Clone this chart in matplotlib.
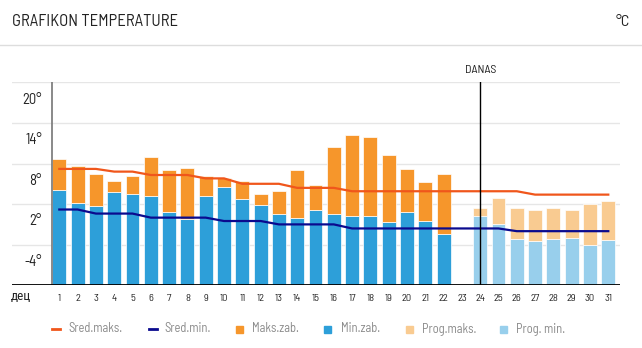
import matplotlib
matplotlib.use("Agg")
import matplotlib.pyplot as plt
from matplotlib.lines import Line2D
from matplotlib.patches import Rectangle

plt.rcParams['font.family'] = ['Barlow Semi Condensed', 'Roboto Condensed', 'DejaVu Sans']

# podaci (decembar)
days_hist = list(range(1, 23))
max_hist = [8.6, 7.7, 6.4, 5.4, 6.2, 8.9, 7.1, 7.4, 6.1, 5.8, 5.4, 3.5, 3.9, 7.1,
            4.8, 10.4, 12.2, 11.9, 9.2, 7.2, 5.3, 6.5]
min_hist = [4.1, 2.2, 1.7, 3.8, 3.5, 3.2, 0.9, -0.2, 3.2, 4.6, 2.8, 1.9, 0.5, -0.1,
            1.2, 0.5, 0.3, 0.3, -0.7, 0.8, -0.5, -2.4]

days_prog = list(range(24, 32))
max_prog = [1.4, 2.9, 1.4, 1.1, 1.4, 1.2, 2.0, 2.5]
min_prog = [0.2, -1.0, -3.1, -3.4, -3.1, -3.0, -4.0, -3.3]

days_all = list(range(1, 32))
avg_max = [7.2, 7.2, 7.2, 6.8, 6.8, 6.3, 6.3, 6.3, 5.8, 5.8, 5.0, 5.0, 5.0, 4.4, 4.4, 4.4,
           3.9, 3.9, 3.9, 3.9, 3.9, 3.9, 3.9, 3.9, 3.9, 3.9, 3.4, 3.4, 3.4, 3.4, 3.4]
avg_min = [1.2, 1.2, 0.6, 0.6, 0.6, 0.0, 0.0, 0.0, 0.0, -0.5, -0.5, -0.5, -1.0, -1.0, -1.0, -1.0,
           -1.6, -1.6, -1.6, -1.6, -1.6, -1.6, -1.6, -1.6, -1.6, -2.0, -2.0, -2.0, -2.0, -2.0, -2.0]

y_ticks = [-4, 2, 8, 14, 20]
today = 24

c_max = '#F6962B'
c_min = '#2D9FD9'
c_pmax = '#F9CB91'
c_pmin = '#98CFEC'
c_avgmax = '#F0561B'
c_avgmin = '#0A0A8E'

W, H = 642, 348
fig = plt.figure(figsize=(W / 100, H / 100), dpi=100)

# zaglavlje
fig.text(12 / W, 1 - 22 / H, 'GRAFIKON TEMPERATURE', fontsize=12, color='#222222', va='center')
fig.text(630 / W, 1 - 22 / H, '°C', fontsize=11.5, color='#222222', va='center', ha='right')
fig.add_artist(Line2D([0, 1], [1 - 44.5 / H, 1 - 44.5 / H], color='#dddddd', lw=1))

ax = fig.add_axes([12 / W, 1 - 285.3 / H, 608 / W, (285.3 - 82.3) / H])
bottom = -10
ax.set_ylim(bottom, 20)
ax.set_xlim(-1.585, 31.64)
for s in ax.spines.values():
    s.set_visible(False)
ax.set_yticks([])

for v in y_ticks:
    ax.axhline(v, color='#e6e6e6', lw=1, zorder=0)
    ax.text(0.05, v - 2.55, f'{v}°', ha='right', va='center', fontsize=10.5, color='#222222')

bw = 0.76
ax.bar(days_hist, [m - bottom for m in min_hist], bottom=bottom, width=bw,
       color=c_min, edgecolor='white', linewidth=0.5, zorder=2)
ax.bar(days_hist, [a - b for a, b in zip(max_hist, min_hist)], bottom=min_hist, width=bw,
       color=c_max, edgecolor='white', linewidth=0.5, zorder=2)
ax.bar(days_prog, [m - bottom for m in min_prog], bottom=bottom, width=bw,
       color=c_pmin, edgecolor='white', linewidth=0.5, zorder=2)
ax.bar(days_prog, [a - b for a, b in zip(max_prog, min_prog)], bottom=min_prog, width=bw,
       color=c_pmax, edgecolor='white', linewidth=0.5, zorder=2)

ax.plot(days_all, avg_max, color=c_avgmax, lw=1.6, zorder=3)
ax.plot(days_all, avg_min, color=c_avgmin, lw=1.6, zorder=3)

ax.axvline(0.585, color='#808080', lw=1.3, zorder=4)
ax.axhline(bottom, color='black', lw=1.3, zorder=4)
ax.axvline(today, color='black', lw=1, zorder=4)
ax.text(today, 21.8, 'DANAS', ha='center', va='center', fontsize=8.5, color='#222222')

ax.set_xticks(days_all)
ax.set_xticklabels([str(d) for d in days_all], fontsize=7.5, color='#222222')
ax.tick_params(axis='x', length=0, pad=6)
fig.text(21 / W, 1 - 297 / H, 'дец', ha='center', va='center', fontsize=9.5, color='#222222')

# legenda
ly = 1 - 329 / H
txt_kw = dict(fontsize=9, color='#8a8a8a', va='center')
items = [
    ('line', c_avgmax, 52, 68, 'Sred.maks.'),
    ('line', c_avgmin, 149, 164, 'Sred.min.'),
    ('box', c_max, 236, 252, 'Maks.zab.'),
    ('box', c_min, 324, 341, 'Min.zab.'),
    ('box', c_pmax, 406, 422, 'Prog.maks.'),
    ('box', c_pmin, 500, 516, 'Prog. min.'),
]
for kind, col, x0, xt, label in items:
    if kind == 'line':
        fig.add_artist(Line2D([x0 / W, (x0 + 8) / W], [ly, ly], color=col, lw=2))
    else:
        fig.add_artist(Rectangle((x0 / W, ly - 3.5 / H), 7 / W, 7 / H, color=col))
    fig.text(xt / W, ly, label, **txt_kw)

fig.savefig('out.png', dpi=100)
